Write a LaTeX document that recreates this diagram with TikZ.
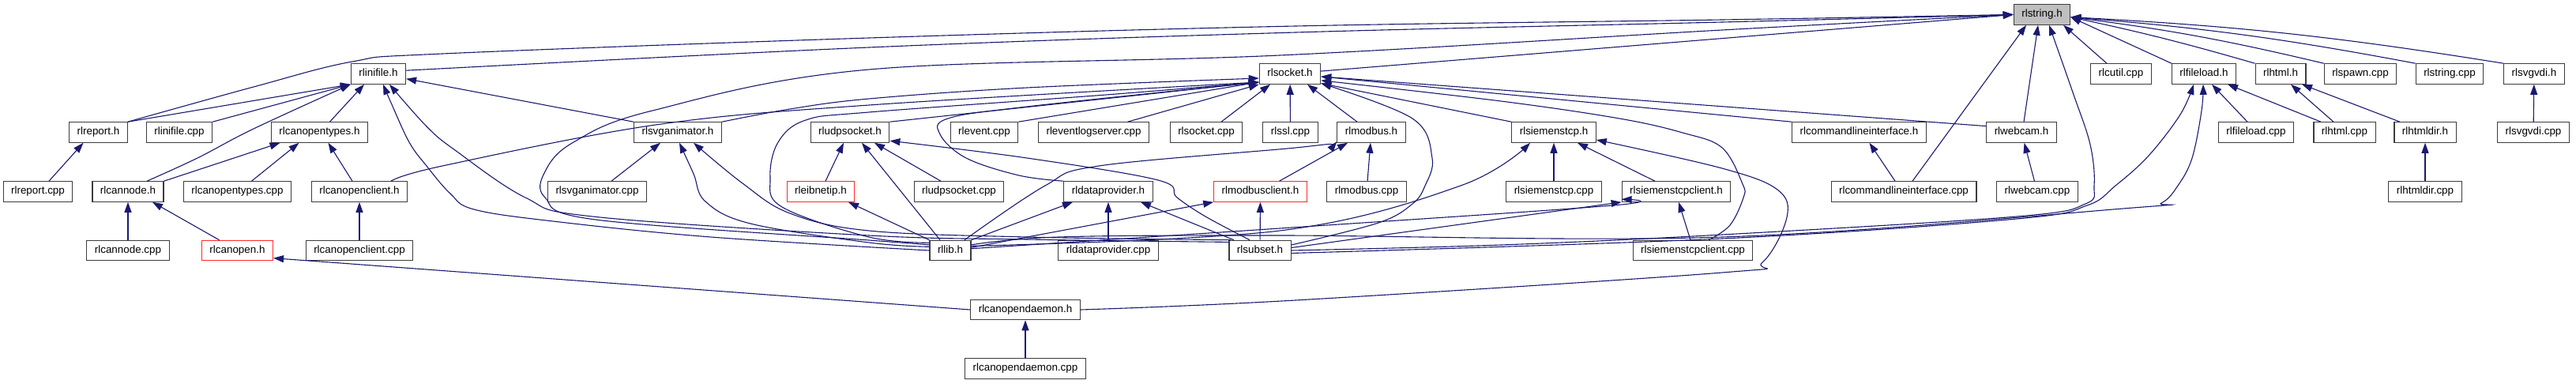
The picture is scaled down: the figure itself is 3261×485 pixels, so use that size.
\documentclass[tikz,border=0pt]{standalone}
\usepackage{fontspec}
\setmainfont{Liberation Sans}
\usepackage{tikz}
\usetikzlibrary{arrows.meta}
\definecolor{eblue}{RGB}{25,25,112}
\definecolor{bgray}{RGB}{191,191,191}
\definecolor{bline}{RGB}{60,60,60}
\definecolor{bred}{RGB}{255,40,40}
\newcommand{\fsz}{\fontsize{13.4pt}{16pt}\selectfont}
\tikzset{
  fl/.style={rectangle, draw=bline, fill=white, line width=1.1pt, minimum height=25.5pt, inner xsep=10pt, inner ysep=0pt, text height=9.6pt, text depth=2.8pt, font=\fsz},
  fr/.style={fl, draw=bred},
  fg/.style={fl, fill=bgray},
  dp/.style={-{Triangle[length=13pt,width=9pt]}, eblue, line width=1.1pt},
  sm/.style={smooth, tension=0.6},
  incgraph/.style={x=1pt, y=-1pt}
}

\begin{document}
\begin{tikzpicture}[incgraph]
  \useasboundingbox (0,0) rectangle (3261,485);
  % rank 0
  \node[fg] (str) at (2585,18.5) {rlstring.h};
  % rank 1
  \node[fl] (ini) at (479,93.5) {rlinifile.h};
  \node[fl] (sock) at (1633,93.5) {rlsocket.h};
  \node[fl] (cutil) at (2685,93.5) {rlcutil.cpp};
  \node[fl] (fload) at (2790,93.5) {rlfileload.h};
  \node[fl] (html) at (2887,93.5) {rlhtml.h};
  \node[fl] (spawn) at (2988,93.5) {rlspawn.cpp};
  \node[fl] (strc) at (3101,93.5) {rlstring.cpp};
  \node[fl] (vdi) at (3208,93.5) {rlsvgvdi.h};
  % rank 2
  \node[fl] (rep) at (124.5,167.5) {rlreport.h};
  \node[fl] (inic) at (227,167.5) {rlinifile.cpp};
  \node[fl] (cot) at (404.5,167.5) {rlcanopentypes.h};
  \node[fl] (sva) at (858,167.5) {rlsvganimator.h};
  \node[fl] (udp) at (1076,167.5) {rludpsocket.h};
  \node[fl] (evt) at (1246,167.5) {rlevent.cpp};
  \node[fl] (evl) at (1384.5,167.5) {rleventlogserver.cpp};
  \node[fl] (sockc) at (1527,167.5) {rlsocket.cpp};
  \node[fl] (ssl) at (1633.5,167.5) {rlssl.cpp};
  \node[fl] (mb) at (1736,167.5) {rlmodbus.h};
  \node[fl] (st) at (1967,167.5) {rlsiemenstcp.h};
  \node[fl] (cli) at (2353.5,167.5) {rlcommandlineinterface.h};
  \node[fl] (cam) at (2559,167.5) {rlwebcam.h};
  \node[fl] (floadc) at (2856,167.5) {rlfileload.cpp};
  \node[fl] (htmlc) at (2968,167.5) {rlhtml.cpp};
  \node[fl] (hdir) at (3070,167.5) {rlhtmldir.h};
  \node[fl] (vdic) at (3207,167.5) {rlsvgvdi.cpp};
  % rank 3
  \node[fl] (repc) at (48,242.5) {rlreport.cpp};
  \node[fl] (cn) at (162,242.5) {rlcannode.h};
  \node[fl] (cotc) at (300.5,242.5) {rlcanopentypes.cpp};
  \node[fl] (coc) at (455,242.5) {rlcanopenclient.h};
  \node[fl] (svac) at (756,242.5) {rlsvganimator.cpp};
  \node[fr] (eib) at (1039,242.5) {rleibnetip.h};
  \node[fl] (udpc) at (1214,242.5) {rludpsocket.cpp};
  \node[fl] (dprov) at (1403,242.5) {rldataprovider.h};
  \node[fr] (mbcl) at (1595.5,242.5) {rlmodbusclient.h};
  \node[fl] (mbc) at (1730,242.5) {rlmodbus.cpp};
  \node[fl] (stc) at (1967,242.5) {rlsiemenstcp.cpp};
  \node[fl] (stcl) at (2122,242.5) {rlsiemenstcpclient.h};
  \node[fl] (clic) at (2410,242.5) {rlcommandlineinterface.cpp};
  \node[fl] (camc) at (2579,242.5) {rlwebcam.cpp};
  \node[fl] (hdirc) at (3070,242.5) {rlhtmldir.cpp};
  % rank 4
  \node[fl] (cnc) at (162,317) {rlcannode.cpp};
  \node[fr] (co) at (300.5,317) {rlcanopen.h};
  \node[fl] (cocc) at (455,317) {rlcanopenclient.cpp};
  \node[fl] (lib) at (1203,317) {rllib.h};
  \node[fl] (dprovc) at (1403,317) {rldataprovider.cpp};
  \node[fl] (sub) at (1595,317) {rlsubset.h};
  \node[fl] (stclc) at (2143,317) {rlsiemenstcpclient.cpp};
  % rank 5, 6
  \node[fl] (cod) at (1298,392) {rlcanopendaemon.h};
  \node[fl] (codc) at (1298,466.5) {rlcanopendaemon.cpp};

  % into rlstring.h
  \draw[dp] plot[sm] coordinates {(rep.north east) (321,110) (446,78) (560,68) (1100,48) (1640,33) (2180,25) (str.west)};
  \draw[dp] plot[sm] coordinates {(ini.7) (1100,60) (1640,41) (2180,28) (str.west)};
  \draw[dp] plot[sm] coordinates {(lib.165) (1100,304) (754,278) (690,250) (690,217) (726,180) (826,140) (1100,88) (1620,70) (2180,38) (str.west)};
  \draw[dp] (sock.5) -- (str.west);
  \draw[dp] ([xshift=11]clic.north) -- ([xshift=-20]str.south);
  \draw[dp] ([xshift=3]cam.north) -- ([xshift=-5]str.south);
  \draw[dp] plot[sm] coordinates {(sub.east) (1900,310) (2180,297) (2553,274) (2640,258) (2651,235) (2646,183) (2624,117) ([xshift=9]str.south)};
  \draw[dp] ([xshift=-18]cutil.north) -- ([xshift=27]str.south);
  \draw[dp] (fload.north west) -- (str.-5);
  \draw[dp] (html.north west) to[bend right=2] (str.-5);
  \foreach \f in {spawn,strc,vdi}
    \draw[dp] (\f.north west) to[bend right=3] (str.-5);

  % into rlinifile.h
  \draw[dp] (rep.north east) -- (ini.south west);
  \draw[dp] (inic.north east) -- (ini.south west);
  \draw[dp] plot[sm] coordinates {([xshift=24]cn.north) (250,200) (321,163) (ini.south west)};
  \draw[dp] ([xshift=13]cot.north) -- ([xshift=-18]ini.south);
  \draw[dp] (sva.north west) -- (ini.-10);
  \draw[dp] plot[sm] coordinates {(lib.west) (900,300) (700,280) (600,265) (570,245) (540,210) (518,180) (495,130) ([xshift=6]ini.south)};
  \draw[dp] plot[sm] coordinates {(sub.165) (1300,303) (1100,298) (750,274) (665,250) (576,190) (540,160) ([xshift=14]ini.south)};

  % CANopen part
  \draw[dp] (cn.north east) -- ([xshift=-50]cot.south);
  \draw[dp] ([xshift=18]cotc.north) -- ([xshift=-26]cot.south);
  \draw[dp] ([xshift=-9]coc.north) -- ([xshift=11]cot.south);
  \draw[dp] ([xshift=14]repc.north) -- ([xshift=-19]rep.south);
  \draw[dp] (cnc) -- (cn);
  \draw[dp] ([xshift=-23]co.north) -- ([xshift=31]cn.south);
  \draw[dp] (cocc) -- (coc);
  \draw[dp] (cod.west) -- (co.-12);
  \draw[dp] (codc) -- (cod);
  \draw[dp] plot[sm] coordinates {([xshift=40]coc.north) (560,210) (830,158) (1100,133) (sock.-165)};

  % into rlsvganimator.h
  \draw[dp] ([xshift=18]svac.north) -- ([xshift=-22]sva.south);
  \draw[dp] plot[sm] coordinates {(lib.170) (1100,307) (950,283) (893,255) (878,220) ([xshift=2]sva.south)};
  \draw[dp] plot[sm] coordinates {(sub.160) (1300,300) (1100,292) (1000,270) (940,232) ([xshift=20]sva.south)};
  \draw[dp] plot[sm] coordinates {(sva.north east) (1000,138) (1100,125) (1300,111) (sock.-172)};

  % into rludpsocket.h
  \draw[dp] ([xshift=6]eib.north) -- ([xshift=-8]udp.south);
  \draw[dp] ([xshift=-23]udpc.north) -- ([xshift=31]udp.south);
  \draw[dp] ([xshift=-13]lib.north) -- ([xshift=15]udp.south);
  \draw[dp] plot[sm] coordinates {([xshift=-13]sub.north) (1526,274) (1490,250) (1466,228) (1300,200) (udp.-12)};
  \draw[dp] (lib.north west) -- ([xshift=35]eib.south);

  % into rlsocket.h
  \draw[dp] (udp.north east) -- (sock.-165);
  \draw[dp] (evt.north east) -- (sock.-165);
  \draw[dp] ([xshift=43]evl.north) -- (sock.south west);
  \draw[dp] ([xshift=19]sockc.north) -- ([xshift=-25]sock.south);
  \draw[dp] (ssl) -- (sock);
  \draw[dp] ([xshift=-18]mb.north) -- ([xshift=22]sock.south);
  \draw[dp] (st.north west) -- (sock.-17);
  \draw[dp] (cli.north west) -- (sock.-5);
  \draw[dp] (cam.170) -- (sock.-5);
  \draw[dp] plot[sm] coordinates {(dprov.north west) (1290,222) (1223,200) (1190,170) (1200,150) (1300,135) (sock.-165)};
  \draw[dp] plot[sm] coordinates {(lib.160) (1100,300) (990,262) (975,225) (985,180) (1020,152) (1100,142) (1400,120) (sock.-165)};
  \draw[dp] plot[sm] coordinates {(sub.10) (1745,282) (1788,258) (1804,235) (1813,200) (1788,150) (sock.-17)};
  \draw[dp] plot[sm] coordinates {([xshift=20]stclc.north) (2190,285) (2207,250) (2206,233) (2180,187) (2130,168) (2050,150) (1900,128) (sock.-12)};
  \draw[dp] plot[sm] coordinates {(cod.east) (1640,380) (2180,345) (2231,332) (2262,275) (2250,240) (2180,213) (st.-10)};

  % into rldataprovider.h, rlmodbus.h
  \draw[dp] (lib.north east) -- ([xshift=-45]dprov.south);
  \draw[dp] (dprovc) -- (dprov);
  \draw[dp] ([xshift=-33]sub.north) -- (dprov.-18);
  \draw[dp] ([xshift=24]mbcl.north) -- ([xshift=-30]mb.south);
  \draw[dp] (mbc) -- (mb);
  \draw[dp] plot[sm] coordinates {([xshift=18]lib.north) (1323,235) (1391,210) (1640,187) (mb.-165)};
  \draw[dp] (lib.8) -- (mbcl.south west);
  \draw[dp] (sub) -- (mbcl);

  % into rlsiemenstcp.h, rlsiemenstcpclient.h
  \draw[dp] (stc) -- (st);
  \draw[dp] ([xshift=-27]stcl.north) -- ([xshift=30]st.south);
  \draw[dp] plot[sm] coordinates {(lib.12) (1620,292) (1849,235) ([xshift=-30]st.south)};
  \draw[dp] plot[sm] coordinates {(lib.5) (1620,289) (2041,260) (stcl.-172)};
  \draw[dp] ([xshift=-3]stclc.north) -- ([xshift=3]stcl.south);
  \draw[dp] (sub.5) -- (stcl.south west);

  % right part
  \draw[dp] ([xshift=-11]clic.north) -- ([xshift=13]cli.south);
  \draw[dp] (camc) -- (cam);
  \draw[dp] ([xshift=-11]floadc.north) -- ([xshift=10]fload.south);
  \draw[dp] ([xshift=-30]htmlc.north) -- ([xshift=30]fload.south);
  \draw[dp] ([xshift=-14]htmlc.north) -- ([xshift=13]html.south);
  \draw[dp] ([xshift=-32]hdir.north) -- ([xshift=27]html.south);
  \draw[dp] (hdirc) -- (hdir);
  \draw[dp] (vdic) -- (vdi);
  \draw[dp] plot[sm] coordinates {(sub.-5) (2180,302) (2553,277) (2642,260) (2678,235) (2720,197) (2760,145) ([xshift=-13]fload.south)};
  \draw[dp] plot[sm] coordinates {(lib.15) (1340,300) (1620,298) (2180,300) (2700,263) (2736,257) (2757,235) (2775,200) (2787,140) ([xshift=-1]fload.south)};
\end{tikzpicture}
\end{document}
